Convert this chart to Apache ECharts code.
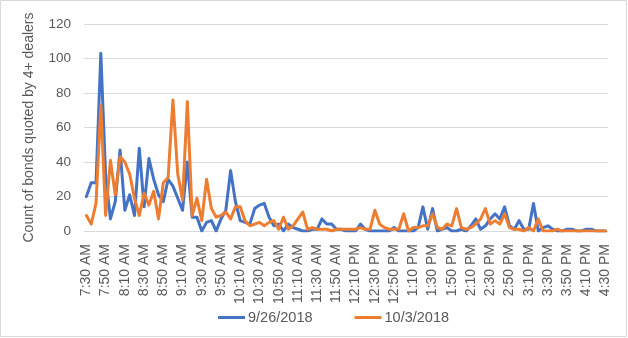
<!DOCTYPE html>
<html>
<head>
<meta charset="utf-8">
<script src="https://cdn.jsdelivr.net/npm/echarts@6/dist/echarts.min.js"></script>
<style>
  html, body { margin: 0; padding: 0; background: #fff; }
  #chart { width: 628px; height: 338px; }
</style>
</head>
<body>
<div id="chart"></div>
<script>
// Five-minute buckets across the trading day, 7:30 AM to 4:30 PM
const categories = (function () {
  const out = [];
  for (let m = 7 * 60 + 30; m <= 16 * 60 + 30; m += 5) {
    const h24 = Math.floor(m / 60);
    const mm = m % 60;
    const h12 = h24 > 12 ? h24 - 12 : h24;
    out.push(h12 + ':' + (mm < 10 ? '0' : '') + mm + (h24 >= 12 ? ' PM' : ' AM'));
  }
  return out;
})();

const seriesNames = ['9/26/2018', '10/3/2018'];

const sep26 = [
  20, 28, 28, 103, 32, 7, 17, 47, 12, 21,
  9, 48, 14, 42, 30, 21, 17, 30, 26, 19,
  12, 40, 8, 8, 0, 5, 6, 0, 7, 12,
  35, 17, 6, 5, 4, 13, 15, 16, 8, 3,
  4, 0, 4, 2, 1, 0, 0, 1, 1, 7,
  4, 4, 1, 1, 0, 0, 0, 4, 1, 0,
  0, 0, 0, 0, 2, 0, 0, 0, 0, 2,
  14, 1, 13, 0, 1, 2, 0, 0, 1, 0,
  3, 7, 1, 3, 7, 10, 7, 14, 3, 1,
  6, 1, 1, 16, 0, 2, 3, 1, 0, 0,
  1, 1, 0, 0, 1, 1, 0, 0, 0
];

const oct3 = [
  9, 4, 16, 73, 9, 41, 21, 43, 40, 33,
  19, 9, 22, 15, 23, 7, 28, 31, 76, 33,
  18, 75, 9, 19, 6, 30, 13, 8, 9, 11,
  7, 14, 14, 6, 3, 4, 5, 3, 5, 6,
  1, 8, 1, 3, 7, 11, 1, 2, 1, 1,
  1, 0, 1, 1, 1, 1, 1, 2, 1, 1,
  12, 4, 2, 1, 1, 1, 10, 0, 2, 2,
  3, 3, 10, 2, 1, 4, 3, 13, 2, 1,
  2, 4, 7, 13, 4, 6, 4, 10, 2, 1,
  1, 0, 2, 0, 7, 0, 0, 0, 1, 0,
  0, 0, 0, 0, 0, 0, 0, 0, 0
];

const yTicks = { min: 0, max: 120, step: 20 };
const yTitle = 'Count of bonds quoted by 4+ dealers';

const FONT = '"Liberation Sans", Arial, sans-serif';
const TEXT = '#595959';
const GRID = '#d9d9d9';

const chart = echarts.init(document.getElementById('chart'), null, { renderer: 'canvas' });

chart.setOption({
  animation: false,
  backgroundColor: '#ffffff',
  textStyle: { fontFamily: FONT },
  graphic: [{
    type: 'rect',
    shape: { x: 0.5, y: 0.5, width: 626, height: 336 },
    style: { fill: 'none', stroke: GRID, lineWidth: 1 },
    silent: true
  }],
  grid: { left: 84, right: 20, top: 24, bottom: 107 },
  legend: {
    bottom: 8,
    left: 213,
    icon: 'rect',
    itemWidth: 27,
    itemHeight: 3,
    itemGap: 42,
    textStyle: { color: TEXT, fontSize: 14.5, fontFamily: FONT, padding: [0, 0, 0, -2] },
    data: seriesNames
  },
  xAxis: {
    type: 'category',
    data: categories,
    boundaryGap: true,
    axisLine: { lineStyle: { color: GRID, width: 1 } },
    axisTick: { show: false },
    axisLabel: {
      interval: 3,
      rotate: 90,
      margin: 13,
      color: TEXT,
      fontSize: 14,
      fontFamily: FONT
    },
    splitLine: { show: false }
  },
  yAxis: {
    type: 'value',
    min: yTicks.min,
    max: yTicks.max,
    interval: yTicks.step,
    name: yTitle,
    nameLocation: 'middle',
    nameRotate: 90,
    nameGap: 48,
    nameTextStyle: { color: TEXT, fontSize: 14, fontFamily: FONT },
    axisLine: { show: false },
    axisTick: { show: false },
    axisLabel: { color: TEXT, fontSize: 13.5, margin: 13, fontFamily: FONT },
    splitLine: { lineStyle: { color: GRID, width: 1 } }
  },
  series: [
    {
      name: seriesNames[0],
      type: 'line',
      data: sep26,
      symbol: 'none',
      lineStyle: { color: '#4472C4', width: 3, join: 'round', cap: 'round' },
      itemStyle: { color: '#4472C4' },
      z: 2
    },
    {
      name: seriesNames[1],
      type: 'line',
      data: oct3,
      symbol: 'none',
      lineStyle: { color: '#ED7D31', width: 3, join: 'round', cap: 'round' },
      itemStyle: { color: '#ED7D31' },
      z: 3
    }
  ]
});
</script>
</body>
</html>
